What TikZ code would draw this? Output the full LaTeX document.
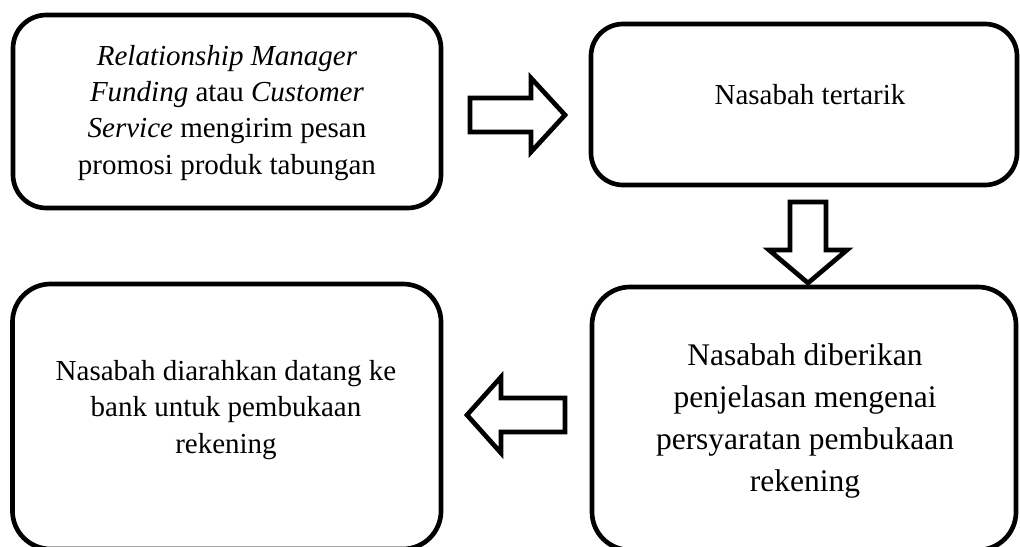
\documentclass[tikz,border=0pt]{standalone}
\usepackage{fontspec}
\setmainfont{Liberation Serif}
\begin{document}
\tikzset{
  box/.style={draw=black, line width=3.5pt, rounded corners=#1, inner sep=0pt},
  box/.default=25pt,
  lbl/.style={align=center, inner sep=0pt, font=\fontsize{21.75}{27.3}\selectfont},
  arrowline/.style={draw=black, line width=3.5pt, fill=white, line join=miter},
  % hollow block arrow pointing along local +x: length, shaft half-width, head half-width, head length
  pics/flowarrow/.style n args={4}{code={
    \draw[arrowline] (0,-#2) -- (#1-#4,-#2) -- (#1-#4,-#3) -- (#1,0)
      -- (#1-#4,#3) -- (#1-#4,#2) -- (0,#2) -- cycle;
  }}
}
\begin{tikzpicture}[x=0.75pt,y=-0.75pt]
\useasboundingbox (0,0) rectangle (1020,546);

% process boxes
\node[box=25pt, minimum width=321pt, minimum height=144.75pt] (b1) at (227,111.5) {};
\node[box=24pt, minimum width=319.5pt, minimum height=120.75pt] (b2) at (804,104.5) {};
\node[box=28.5pt, minimum width=318pt, minimum height=197.25pt] (b3) at (804,418.5) {};
\node[box=28.5pt, minimum width=321.4pt, minimum height=198.75pt] (b4) at (226.75,416.5) {};

% box texts
\node[lbl] (t1) at (227,112.7)
  {\textit{Relationship Manager}\\\textit{Funding} atau \textit{Customer}\\\textit{Service} mengirim pesan\\promosi produk tabungan};
\node[lbl] (t2) at (810,94.1) {Nasabah tertarik};
\node[lbl, font=\fontsize{23.6}{31.3}\selectfont] (t3) at (805,421)
  {Nasabah diberikan\\penjelasan mengenai\\persyaratan pembukaan\\rekening};
\node[lbl, font=\fontsize{21.75}{27.4}\selectfont] (t4) at (226,409.8)
  {Nasabah diarahkan datang ke\\bank untuk pembukaan\\rekening};

% hollow arrows between the steps
\pic (a12) at (470,115) {flowarrow={95}{17}{37}{34}};
\pic[rotate=-90] (a23) at (808,202) {flowarrow={81}{18}{39}{33}};
\pic[rotate=180] (a34) at (565,415) {flowarrow={98}{17}{38}{34}};
\end{tikzpicture}
\end{document}
